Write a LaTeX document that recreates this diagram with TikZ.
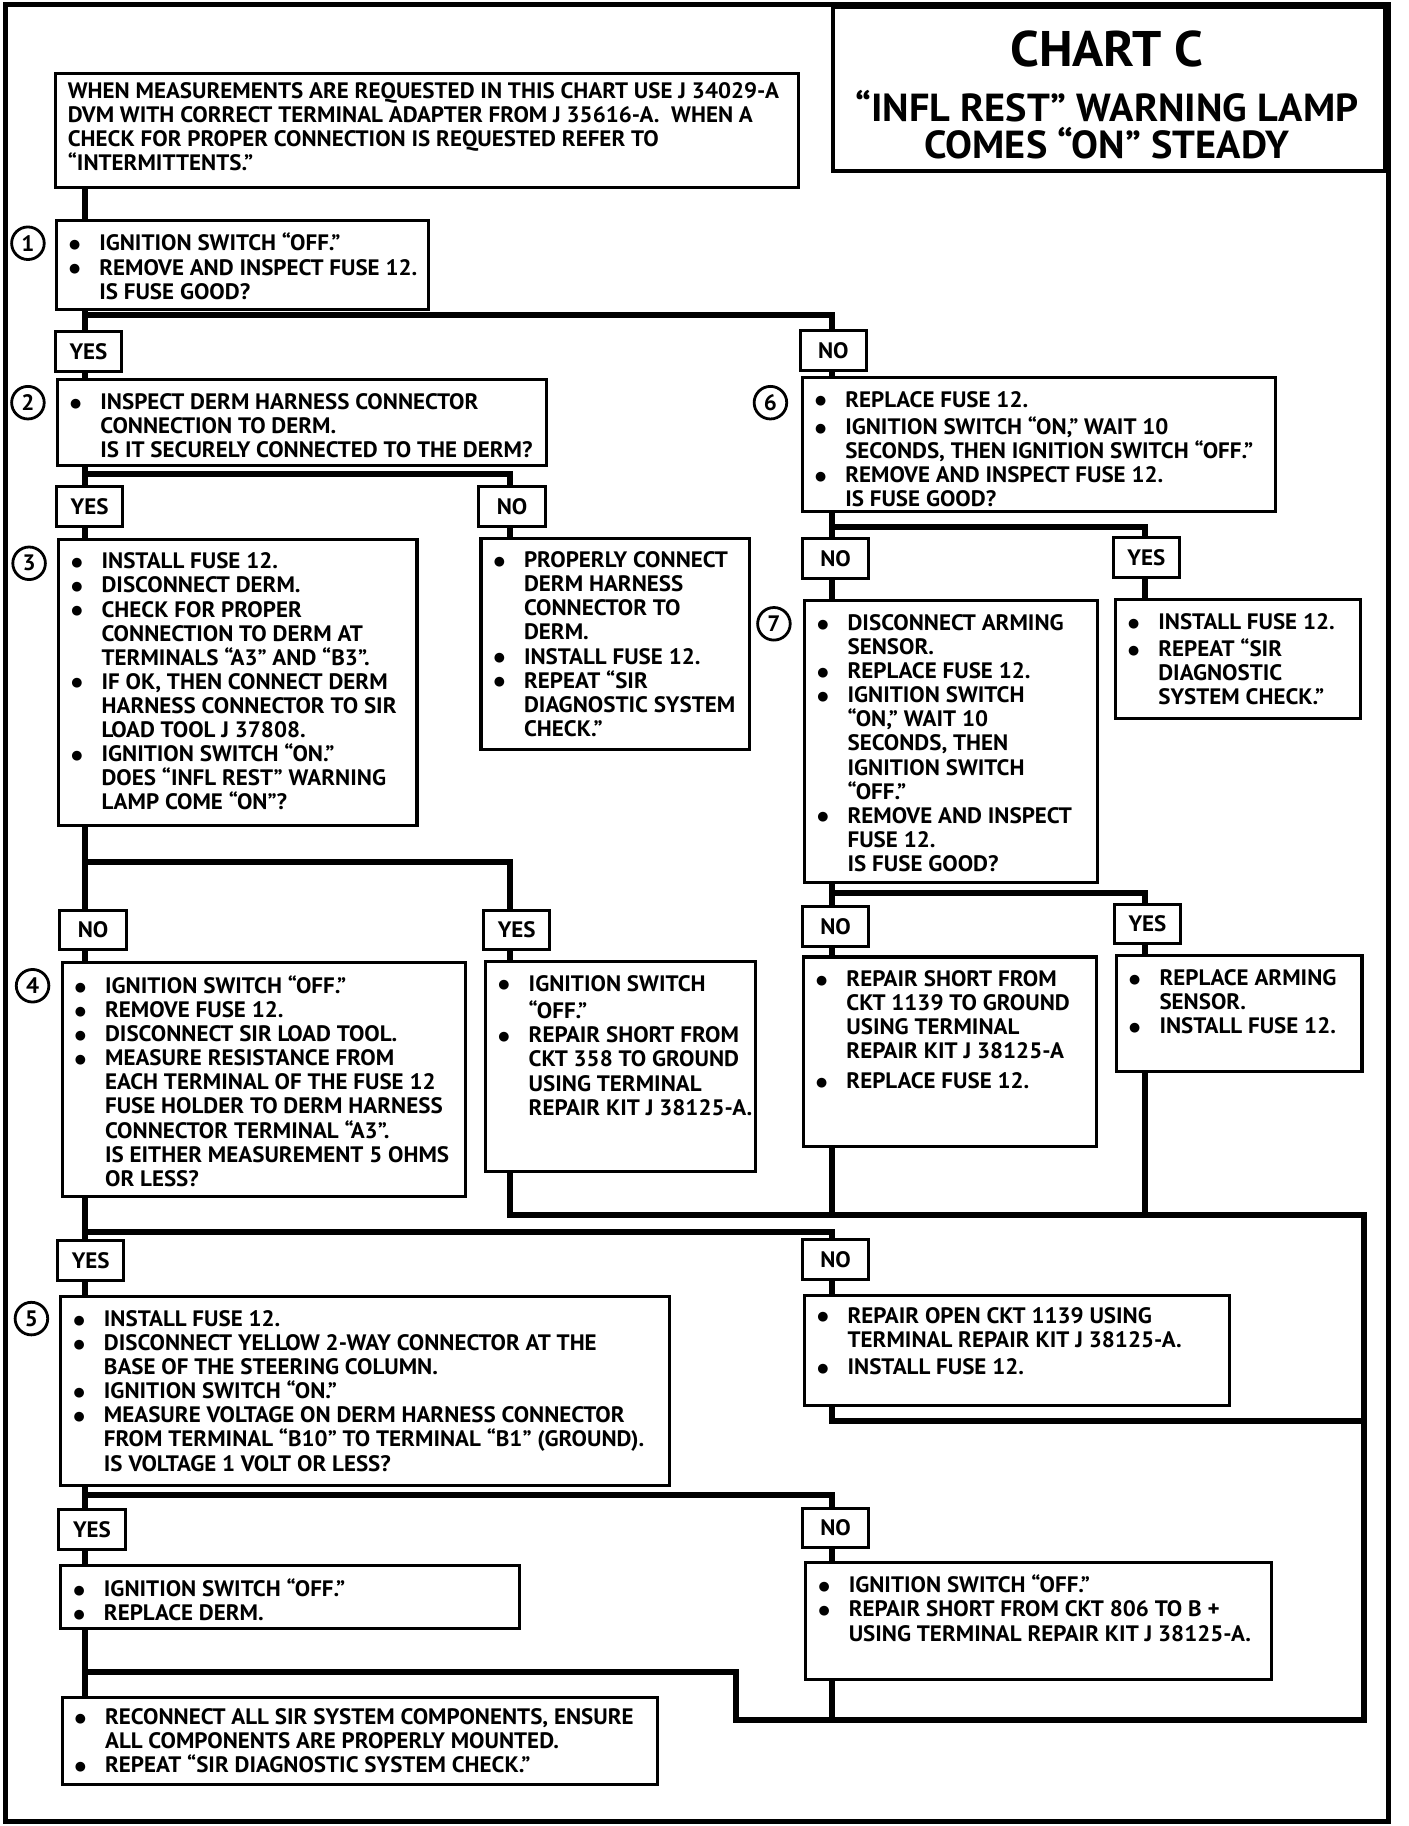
\documentclass[tikz,border=0pt]{standalone}
\usepackage{fontspec}
\setmainfont{PT Sans}[FakeStretch=1.03]
\newfontfamily\dotfont{DejaVu Sans}
\usepackage{tikz}
\usetikzlibrary{positioning, calc}

\newlength\unitpx
\setlength\unitpx{0.5pt}
\newcommand\bul{\makebox[37\unitpx][l]{\hspace*{11\unitpx}\raisebox{1pt}{\dotfont\fontsize{5.5}{6}\selectfont ●}}}
\newcommand\ind{\hspace*{37\unitpx}}
\newcommand\chartcell[4][5.5pt]{\parbox[t][#3\unitpx][t]{#2\unitpx}{\raggedright\vspace*{#1}\strut #4}}

\tikzset{
	chartbox/.style={draw, line width=1.3pt, anchor=north west, inner sep=0pt},
	answer/.style={draw, line width=1.3pt, minimum width=28.5pt, minimum height=17pt, inner sep=0pt},
	stepno/.style={circle, draw, line width=1.2pt, minimum size=14pt, inner sep=0pt},
	link/.style={line width=2.6pt},
	frame/.style={line width=2pt}
}

\begin{document}
\begin{tikzpicture}[x=0.5pt, y=-0.5pt, font=\fontsize{9.6}{10.35}\selectfont\bfseries]
\useasboundingbox (0,0) rectangle (1210,1569);
\draw[frame] (5,4) rectangle (1193,1565);

% title
\node[draw, line width=1.8pt, anchor=north west, minimum width=237pt, minimum height=70.5pt, inner sep=0pt] (titlebox) at (714,4) {};
\node[font=\fontsize{21.5}{24}\selectfont\bfseries, anchor=base] (chartname) at (951,57) {CHART C};
\node[font=\fontsize{16.8}{18}\selectfont\bfseries, anchor=base] (lampa) at (951,104.5) {“INFL REST” WARNING LAMP};
\node[font=\fontsize{16.8}{18}\selectfont\bfseries, anchor=base] (lampb) at (951,136.5) {COMES “ON” STEADY};

% spines
\coordinate (lx) at (73,0);
\coordinate (mx) at (438,0);
\coordinate (rx) at (715,0);
\coordinate (yx) at (984,0);
\coordinate (ret) at (1172,1044);
\coordinate (retm) at (1172,1221);
\coordinate (retb) at (1172,1478);
\coordinate (jog) at (632,1437);

% boxes, left column
\node[chartbox] (b0) at (46,62) {\chartcell[3.5pt]{639}{98}{\leftskip=11\unitpx
	WHEN MEASUREMENTS ARE REQUESTED IN THIS CHART USE J 34029-A\\
	DVM WITH CORRECT TERMINAL ADAPTER FROM J 35616-A.\ \ WHEN A\\
	CHECK FOR PROPER CONNECTION IS REQUESTED REFER TO\\
	“INTERMITTENTS.”}};
\node[chartbox] (b1) at (47,188) {\chartcell{320}{77}{%
	\bul IGNITION SWITCH “OFF.”\\
	\bul REMOVE AND INSPECT FUSE 12.\\
	\ind IS FUSE GOOD?}};
\node[chartbox] (b2) at (48,325) {\chartcell{420}{74}{%
	\bul INSPECT DERM HARNESS CONNECTOR\\
	\ind CONNECTION TO DERM.\\
	\ind IS IT SECURELY CONNECTED TO THE DERM?}};
\node[chartbox] (b3) at (49,462) {\chartcell{308}{246}{%
	\bul INSTALL FUSE 12.\\
	\bul DISCONNECT DERM.\\
	\bul CHECK FOR PROPER\\
	\ind CONNECTION TO DERM AT\\
	\ind TERMINALS “A3” AND “B3”.\\
	\bul IF OK, THEN CONNECT DERM\\
	\ind HARNESS CONNECTOR TO SIR\\
	\ind LOAD TOOL J 37808.\\
	\bul IGNITION SWITCH “ON.”\\
	\ind DOES “INFL REST” WARNING\\
	\ind LAMP COME “ON”?}};
\node[chartbox] (b2n) at (412,461) {\chartcell{231}{182}{%
	\bul PROPERLY CONNECT\\
	\ind DERM HARNESS\\
	\ind CONNECTOR TO\\
	\ind DERM.\\
	\bul INSTALL FUSE 12.\\
	\bul REPEAT “SIR\\
	\ind DIAGNOSTIC SYSTEM\\
	\ind CHECK.”}};
\node[chartbox] (b4) at (52,826) {\chartcell{347}{201}{%
	\bul IGNITION SWITCH “OFF.”\\
	\bul REMOVE FUSE 12.\\
	\bul DISCONNECT SIR LOAD TOOL.\\
	\bul MEASURE RESISTANCE FROM\\
	\ind EACH TERMINAL OF THE FUSE 12\\
	\ind FUSE HOLDER TO DERM HARNESS\\
	\ind CONNECTOR TERMINAL “A3”.\\
	\ind IS EITHER MEASUREMENT 5 OHMS\\
	\ind OR LESS?}};
\node[chartbox] (b3y) at (416,825) {\chartcell{232}{180}{%
	\bul IGNITION SWITCH\\
	\ind “OFF.”\\
	\bul REPAIR SHORT FROM\\
	\ind CKT 358 TO GROUND\\
	\ind USING TERMINAL\\
	\ind REPAIR KIT J 38125-A.}};
\node[chartbox] (b5) at (51,1113) {\chartcell{523}{162}{%
	\bul INSTALL FUSE 12.\\
	\bul DISCONNECT YELLOW 2-WAY CONNECTOR AT THE\\
	\ind BASE OF THE STEERING COLUMN.\\
	\bul IGNITION SWITCH “ON.”\\
	\bul MEASURE VOLTAGE ON DERM HARNESS CONNECTOR\\
	\ind FROM TERMINAL “B10” TO TERMINAL “B1” (GROUND).\\
	\ind IS VOLTAGE 1 VOLT OR LESS?}};
\node[chartbox] (b5y) at (51,1344) {\chartcell{394}{54}{%
	\bul IGNITION SWITCH “OFF.”\\
	\bul REPLACE DERM.}};
\node[chartbox] (fin) at (52,1457) {\chartcell[4.5pt]{512}{75}{%
	\bul RECONNECT ALL SIR SYSTEM COMPONENTS, ENSURE\\
	\ind ALL COMPONENTS ARE PROPERLY MOUNTED.\\
	\bul REPEAT “SIR DIAGNOSTIC SYSTEM CHECK.”}};

% boxes, right column
\node[chartbox] (b6) at (688,323) {\chartcell{407}{115}{%
	\bul REPLACE FUSE 12.\\
	\bul IGNITION SWITCH “ON,” WAIT 10\\
	\ind SECONDS, THEN IGNITION SWITCH “OFF.”\\
	\bul REMOVE AND INSPECT FUSE 12.\\
	\ind IS FUSE GOOD?}};
\node[chartbox] (b6y) at (957,514) {\chartcell{211}{102}{%
	\bul INSTALL FUSE 12.\\
	\bul REPEAT “SIR\\
	\ind DIAGNOSTIC\\
	\ind SYSTEM CHECK.”}};
\node[chartbox] (b7) at (690,515) {\chartcell{252}{242}{%
	\bul DISCONNECT ARMING\\
	\ind SENSOR.\\
	\bul REPLACE FUSE 12.\\
	\bul IGNITION SWITCH\\
	\ind “ON,” WAIT 10\\
	\ind SECONDS, THEN\\
	\ind IGNITION SWITCH\\
	\ind “OFF.”\\
	\bul REMOVE AND INSPECT\\
	\ind FUSE 12.\\
	\ind IS FUSE GOOD?}};
\node[chartbox] (b7n) at (689,821) {\chartcell{252}{163}{%
	\bul REPAIR SHORT FROM\\
	\ind CKT 1139 TO GROUND\\
	\ind USING TERMINAL\\
	\ind REPAIR KIT J 38125-A\\[2.5pt]
	\bul REPLACE FUSE 12.}};
\node[chartbox] (b7y) at (958,820) {\chartcell{211}{99}{%
	\bul REPLACE ARMING\\
	\ind SENSOR.\\
	\bul INSTALL FUSE 12.}};
\node[chartbox] (b4n) at (690,1112) {\chartcell[4.5pt]{365}{94}{%
	\bul REPAIR OPEN CKT 1139 USING\\
	\ind TERMINAL REPAIR KIT J 38125-A.\\[1.5pt]
	\bul INSTALL FUSE 12.}};
\node[chartbox] (b5n) at (691,1341) {\chartcell{400}{101}{%
	\bul IGNITION SWITCH “OFF.”\\
	\bul REPAIR SHORT FROM CKT 806 TO B +\\
	\ind USING TERMINAL REPAIR KIT J 38125-A.}};

% step numbers
\node[stepno] (s1) at (24,209) {1};
\node[stepno] (s2) at (24,346) {2};
\node[stepno] (s3) at (25,484) {3};
\node[stepno] (s4) at (28,847) {4};
\node[stepno] (s5) at (27,1133) {5};
\node[stepno] (s6) at (662,346) {6};
\node[stepno] (s7) at (665,536) {7};

% answers
\node[answer] (yes1) at (76,302) {YES};
\node[answer] (no1) at (716,301) {NO};
\node[answer] (yes2) at (77,435) {YES};
\node[answer] (no2) at (440,435) {NO};
\node[answer] (no3) at (80,799) {NO};
\node[answer] (yes3) at (444,799) {YES};
\node[answer] (yes4) at (78,1083) {YES};
\node[answer] (no4) at (718,1082) {NO};
\node[answer] (yes5) at (79,1314) {YES};
\node[answer] (no5) at (718,1313) {NO};
\node[answer] (no6) at (718,480) {NO};
\node[answer] (yes6) at (985,479) {YES};
\node[answer] (no7) at (718,796) {NO};
\node[answer] (yes7) at (986,794) {YES};

% connectors
\draw[link] (b0.south -| lx) -- (b1.north -| lx);
\draw[link] (b1.south -| lx) -- (yes1.north -| lx) (yes1.south -| lx) -- (b2.north -| lx);
\draw[link] (b1.south -| lx) -- ++(0,3) -| (no1.north -| rx) (no1.south -| rx) -- (b6.north -| rx);
\draw[link] (b2.south -| lx) -- (yes2.north -| lx) (yes2.south -| lx) -- (b3.north -| lx);
\draw[link] (b2.south -| lx) -- ++(0,6) -| (no2.north -| mx) (no2.south -| mx) -- (b2n.north -| mx);
\draw[link] (b3.south -| lx) -- (no3.north -| lx) (no3.south -| lx) -- (b4.north -| lx);
\draw[link] (b3.south -| lx) -- ++(0,30) -| (yes3.north -| mx) (yes3.south -| mx) -- (b3y.north -| mx);
\draw[link] (b4.south -| lx) -- (yes4.north -| lx) (yes4.south -| lx) -- (b5.north -| lx);
\draw[link] (b4.south -| lx) -- ++(0,29) -| (no4.north -| rx) (no4.south -| rx) -- (b4n.north -| rx);
\draw[link] (b5.south -| lx) -- (yes5.north -| lx) (yes5.south -| lx) -- (b5y.north -| lx);
\draw[link] (b5.south -| lx) -- ++(0,7) -| (no5.north -| rx) (no5.south -| rx) -- (b5n.north -| rx);
\draw[link] (b6.south -| rx) -- (no6.north -| rx) (no6.south -| rx) -- (b7.north -| rx);
\draw[link] (b6.south -| rx) -- ++(0,12) -| (yes6.north -| yx) (yes6.south -| yx) -- (b6y.north -| yx);
\draw[link] (b7.south -| rx) -- (no7.north -| rx) (no7.south -| rx) -- (b7n.north -| rx);
\draw[link] (b7.south -| rx) -- ++(0,8) -| (yes7.north -| yx) (yes7.south -| yx) -- (b7y.north -| yx);
% back to the end box
\draw[link] (b3y.south -| mx) |- (ret) -- (retb) -| (jog) -- (jog -| lx);
\draw[link] (b7n.south -| rx) -- (ret -| rx);
\draw[link] (b7y.south -| yx) -- (ret -| yx);
\draw[link] (b4n.south -| rx) |- (retm);
\draw[link] (b5n.south -| rx) -- (retb -| rx);
\draw[link] (b5y.south -| lx) -- (fin.north -| lx);
\end{tikzpicture}
\end{document}
